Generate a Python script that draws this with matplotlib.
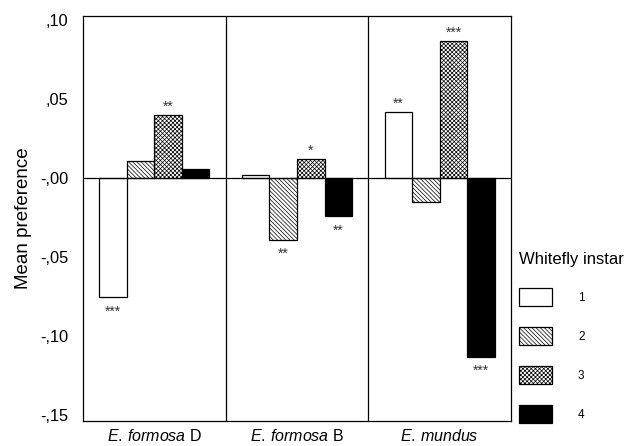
import numpy as np
import matplotlib
matplotlib.use("Agg")
import matplotlib.pyplot as plt
from matplotlib.patches import Patch

plt.rcParams["font.family"] = ["Liberation Sans", "DejaVu Sans"]
plt.rcParams["mathtext.fontset"] = "custom"
plt.rcParams["mathtext.rm"] = "Liberation Sans"
plt.rcParams["mathtext.it"] = "Liberation Sans:italic"
plt.rcParams["hatch.linewidth"] = 0.5

# data
species = [r"$\mathit{E.\,formosa}$ D", r"$\mathit{E.\,formosa}$ B", r"$\mathit{E.\,mundus}$"]
instars = ["1", "2", "3", "4"]
pref = {
    "1": [-0.0753, 0.0020, 0.0420],
    "2": [0.0108, -0.0390, -0.0150],
    "3": [0.0400, 0.0120, 0.0867],
    "4": [0.0057, -0.0240, -0.1127],
}
stars = {
    "1": ["***", "", "**"],
    "2": ["", "**", ""],
    "3": ["**", "*", "***"],
    "4": ["", "**", "***"],
}
yticks = [0.10, 0.05, 0.0, -0.05, -0.10, -0.15]
yticklabels = [",10", ",05", "-,00", "-,05", "-,10", "-,15"]

styles = {
    "1": dict(facecolor="white", hatch=None),
    "2": dict(facecolor="white", hatch="\\\\\\\\\\\\\\\\"),
    "3": dict(facecolor="white", hatch="xxxxxxxx"),
    "4": dict(facecolor="black", hatch=None),
}

fig = plt.figure(figsize=(6.26, 4.46), dpi=100)
ax = fig.add_axes([0.1326, 0.0561, 0.6837, 0.9087])

x = np.arange(len(species))
w = 0.193
for i, k in enumerate(instars):
    pos = x + (i - 1.5) * w
    ax.bar(pos, pref[k], width=w, edgecolor="black", linewidth=0.9, **styles[k])
    for p, v, s in zip(pos, pref[k], stars[k]):
        if not s:
            continue
        if v >= 0:
            ax.annotate(s, (p, v), xytext=(0, 1), textcoords="offset points",
                        ha="center", va="bottom", fontsize=10, color="#333333")
        else:
            ax.annotate(s, (p, v), xytext=(0, -5), textcoords="offset points",
                        ha="center", va="top", fontsize=10, color="#333333")

ax.axhline(0, color="black", linewidth=0.9)
for d in [0.5, 1.5]:
    ax.axvline(d, color="black", linewidth=0.9)

ax.set_xlim(-0.5, 2.5)
ax.set_ylim(-0.1535, 0.103)
ax.set_yticks(yticks)
ax.set_yticklabels(yticklabels, fontsize=11.8)
ax.set_xticks(x)
ax.set_xticklabels(species, fontsize=11.5)
ax.tick_params(length=0, pad=5)
ax.tick_params(axis="y", pad=10.5)
ax.set_ylabel("Mean preference", fontsize=13.5, labelpad=6)
for sp in ax.spines.values():
    sp.set_linewidth(0.9)

handles = [Patch(edgecolor="black", linewidth=0.9, **styles[k]) for k in instars]
leg = fig.legend(handles, instars, title="Whitefly instar", loc="upper left",
                 bbox_to_anchor=(0.812, 0.458), frameon=False, fontsize=8.5,
                 title_fontsize=12, handlelength=2.8, handleheight=2.0,
                 labelspacing=1.75, handletextpad=2.2)
leg._legend_box.align = "left"

fig.savefig("out.png", dpi=100)
